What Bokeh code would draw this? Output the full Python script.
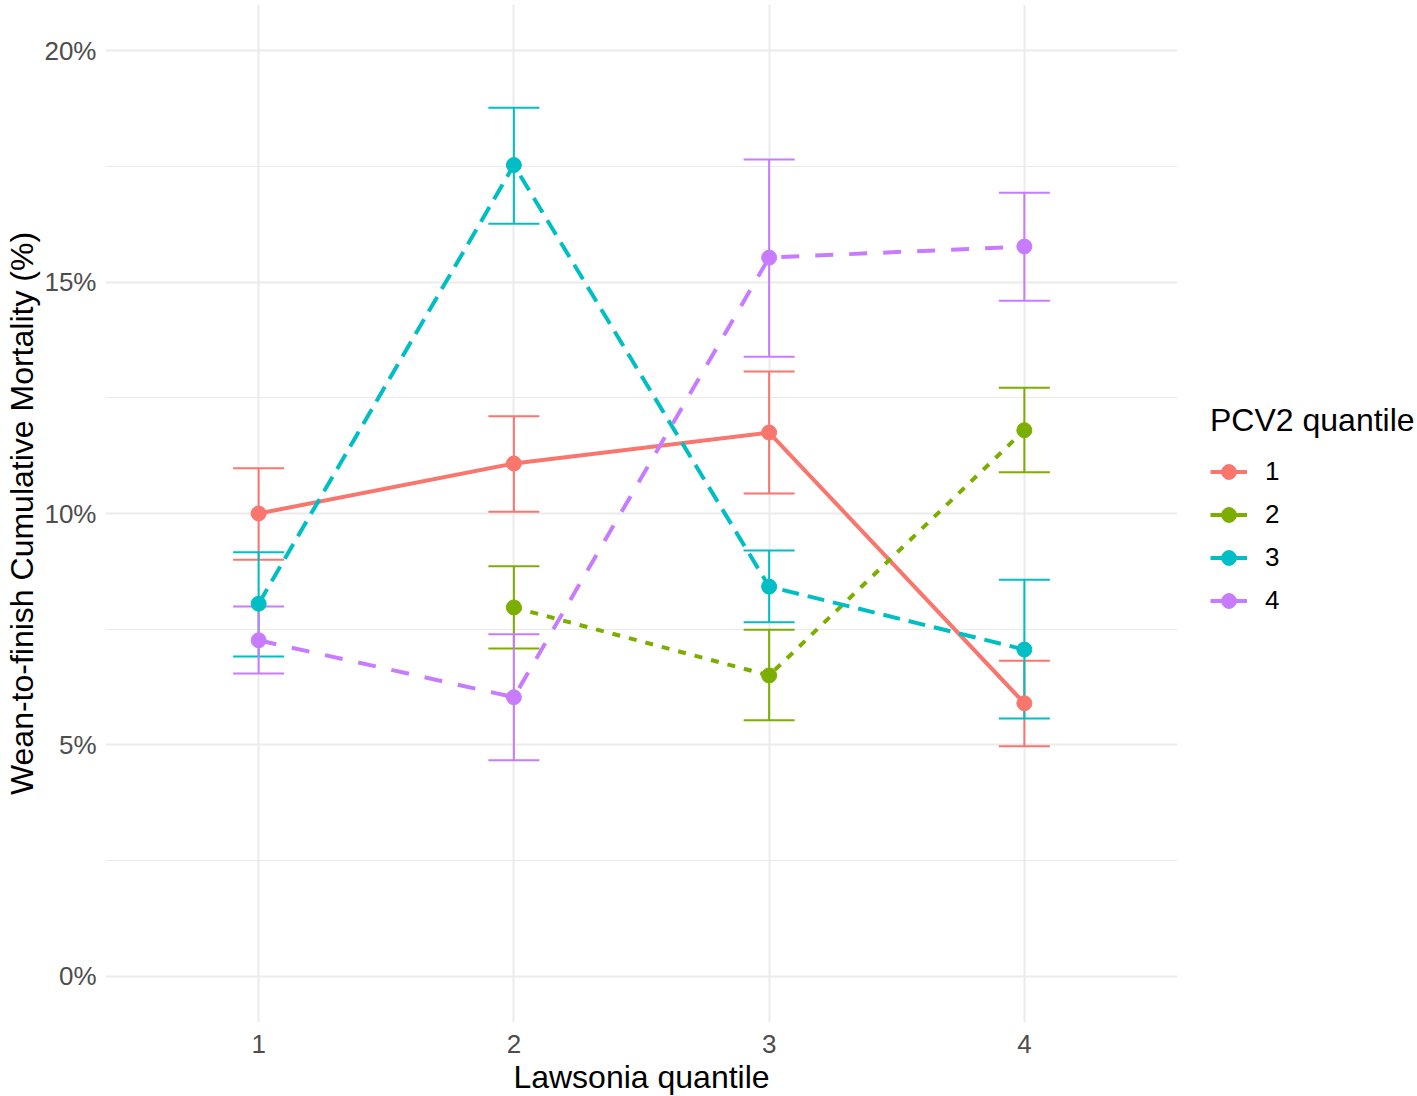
from bokeh.plotting import figure
from bokeh.models import (ColumnDataSource, Whisker, TeeHead, Legend, LegendItem,
                          FixedTicker, Range1d)
from bokeh.embed import file_html
from bokeh.resources import INLINE

# ---- data ----
groups = ["1", "2", "3", "4"]
colors = ["#F8766D", "#7CAE00", "#00BFC4", "#C77CFF"]
dashes = ["solid", "8 9", "17 9", "18 16"]

g1_x = [1, 2, 3, 4]
g1_y = [10.0, 11.08, 11.75, 5.90]
g1_lo = [9.00, 10.04, 10.43, 4.97]
g1_hi = [10.98, 12.10, 13.07, 6.82]

g2_x = [2, 3, 4]
g2_y = [7.97, 6.50, 11.80]
g2_lo = [7.08, 5.53, 10.89]
g2_hi = [8.86, 7.49, 12.72]

g3_x = [1, 2, 3, 4]
g3_y = [8.05, 17.53, 8.42, 7.06]
g3_lo = [6.91, 16.26, 7.65, 5.57]
g3_hi = [9.16, 18.77, 9.20, 8.57]

g4_x = [1, 2, 3, 4]
g4_y = [7.26, 6.03, 15.53, 15.77]
g4_lo = [6.54, 4.67, 13.39, 14.60]
g4_hi = [7.99, 7.39, 17.65, 16.93]

x_ticks = [1, 2, 3, 4]
y_ticks = [0, 5, 10, 15, 20]
y_tick_labels = ["0%", "5%", "10%", "15%", "20%"]
y_minor = [2.5, 7.5, 12.5, 17.5]

FONT = "Liberation Sans"

p = figure(frame_width=1072, frame_height=1018,
           x_range=Range1d(0.4, 4.6), y_range=Range1d(-1.0, 21.0),
           min_border_left=105, min_border_right=240, min_border_top=4,
           min_border_bottom=74,
           output_backend="svg", toolbar_location=None)
p.outline_line_color = None
p.background_fill_color = "white"
p.border_fill_color = "white"

# axes
p.xaxis.ticker = FixedTicker(ticks=x_ticks, minor_ticks=[])
p.yaxis.ticker = FixedTicker(ticks=y_ticks, minor_ticks=y_minor)
p.yaxis.major_label_overrides = {t: l for t, l in zip(y_ticks, y_tick_labels)}
for ax in (p.xaxis, p.yaxis):
    ax.axis_line_color = None
    ax.major_tick_line_color = None
    ax.minor_tick_line_color = None
    ax.major_tick_out = 0
    ax.minor_tick_out = 0
    ax.major_tick_in = 0
    ax.minor_tick_in = 0
    ax.major_label_text_font = FONT
    ax.major_label_text_font_size = "26px"
    ax.major_label_text_color = "#4D4D4D"
    ax.axis_label_text_font = FONT
    ax.axis_label_text_font_size = "32px"
    ax.axis_label_text_font_style = "normal"
    ax.axis_label_text_color = "black"
p.xaxis.axis_label = "Lawsonia quantile"
p.yaxis.axis_label = "Wean-to-finish Cumulative Mortality (%)"
p.xaxis.major_label_standoff = 12
p.xaxis.axis_label_standoff = 3
p.yaxis.major_label_standoff = 9
p.yaxis.axis_label_standoff = 1

# grid
p.xgrid.grid_line_color = "#EBEBEB"
p.xgrid.grid_line_width = 2
p.ygrid.grid_line_color = "#EBEBEB"
p.ygrid.grid_line_width = 2
p.ygrid.minor_grid_line_color = "#EBEBEB"
p.ygrid.minor_grid_line_width = 1

data = [
    (g1_x, g1_y, g1_lo, g1_hi),
    (g2_x, g2_y, g2_lo, g2_hi),
    (g3_x, g3_y, g3_lo, g3_hi),
    (g4_x, g4_y, g4_lo, g4_hi),
]

sources = [ColumnDataSource(dict(x=gx, y=gy, lo=glo, hi=ghi)) for gx, gy, glo, ghi in data]

# error bars first
for src, c in zip(sources, colors):
    w = Whisker(source=src, base="x", upper="hi", lower="lo",
                line_color=c, line_width=2,
                upper_head=TeeHead(size=51, line_color=c, line_width=2),
                lower_head=TeeHead(size=51, line_color=c, line_width=2),
                level="underlay")
    p.add_layout(w)

# lines
for src, c, d in zip(sources, colors, dashes):
    p.line("x", "y", source=src, line_color=c, line_width=4, line_dash=d)

# points + legend keys (solid key line shown only in the legend)
items = []
for src, c, g in zip(sources, colors, groups):
    pts = p.scatter("x", "y", source=src, size=15, fill_color=c, line_color=c)
    key_line = p.line("x", "y", source=src, line_color=c, line_width=4)
    key_line.visible = False
    items.append(LegendItem(label=g, renderers=[key_line, pts]))

legend = Legend(items=items, location=(33, 403),
                title="PCV2 quantile",
                title_text_font=FONT, title_text_font_size="32px",
                title_text_font_style="normal",
                title_text_color="black", title_standoff=14,
                label_text_font=FONT, label_text_font_size="26px",
                label_text_color="black",
                glyph_width=37, glyph_height=37, label_height=37,
                spacing=6, label_standoff=18,
                margin=0, padding=0, click_policy="none",
                inactive_fill_alpha=0,
                background_fill_alpha=0, border_line_color=None)
p.add_layout(legend, "right")

open("out.html", "w").write(file_html(p, INLINE))
